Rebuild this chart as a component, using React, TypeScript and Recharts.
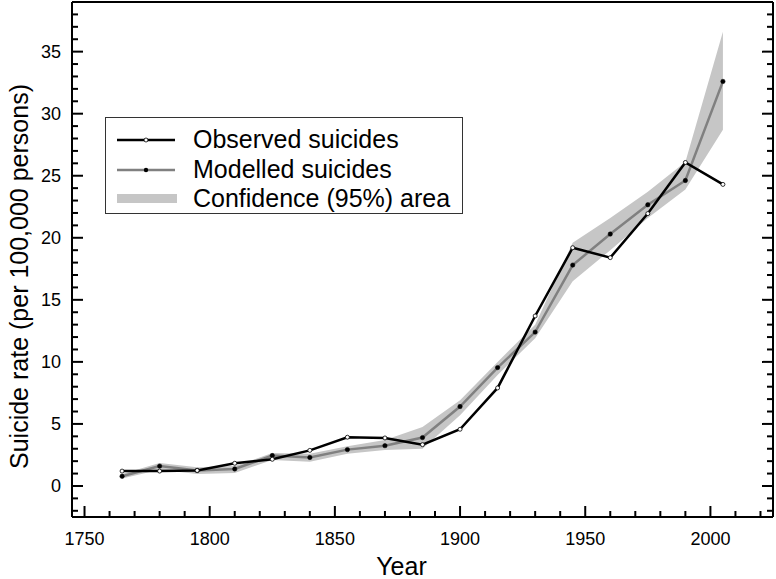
import { ComposedChart, Line, Area, XAxis, YAxis, Legend, Label } from "recharts";

const FONT = "'Liberation Sans', Arial, sans-serif";

// data, one point every 15 years
const years = [1765, 1780, 1795, 1810, 1825, 1840, 1855, 1870, 1885, 1900, 1915, 1930, 1945, 1960, 1975, 1990, 2005];
const observed = [1.2, 1.2, 1.25, 1.83, 2.15, 2.87, 3.93, 3.87, 3.33, 4.57, 7.9, 13.7, 19.2, 18.4, 21.95, 26.07, 24.3];
const modelled = [0.78, 1.6, 1.25, 1.37, 2.45, 2.3, 2.93, 3.25, 3.9, 6.4, 9.54, 12.4, 17.8, 20.3, 22.66, 24.62, 32.6];
const bandLow = [0.6, 1.3, 0.97, 1.05, 2.1, 1.95, 2.6, 2.9, 3.0, 5.7, 8.95, 11.9, 16.5, 19.0, 21.6, 23.9, 28.7];
const bandHigh = [0.97, 1.85, 1.5, 1.6, 2.65, 2.6, 3.2, 3.7, 4.75, 6.9, 10.0, 13.0, 19.6, 21.6, 23.7, 26.1, 36.6];

// ticks: minor every 10 years / 1 unit, labels on the majors
const xTicks = [1750, 1760, 1770, 1780, 1790, 1800, 1810, 1820, 1830, 1840, 1850, 1860, 1870, 1880, 1890, 1900, 1910, 1920, 1930, 1940, 1950, 1960, 1970, 1980, 1990, 2000, 2010, 2020];
const xLabels = [1750, 1800, 1850, 1900, 1950, 2000];
const yTicks = Array.from({ length: 41 }, (_, i) => i - 2);
const yLabels = [0, 5, 10, 15, 20, 25, 30, 35];

const data = years.map((year, i) => ({
  year,
  observed: observed[i],
  modelled: modelled[i],
  band: [bandLow[i], bandHigh[i]],
}));

const axisLine = { stroke: "#000", strokeWidth: 2 };

const BottomTick = (p: any) => {
  const major = xLabels.includes(p.payload.value);
  return (
    <g>
      <line x1={p.x} y1={p.y} x2={p.x} y2={p.y - (major ? 11 : 6)} stroke="#000" strokeWidth={2} />
      {major && (
        <text x={p.x} y={p.y + 28} textAnchor="middle" fontSize={18} fontFamily={FONT} fill="#000">
          {p.payload.value}
        </text>
      )}
    </g>
  );
};

const TopTick = (p: any) => {
  const major = xLabels.includes(p.payload.value);
  return <line x1={p.x} y1={p.y} x2={p.x} y2={p.y + (major ? 11 : 6)} stroke="#000" strokeWidth={2} />;
};

const LeftTick = (p: any) => {
  const major = yLabels.includes(p.payload.value);
  return (
    <g>
      <line x1={p.x} y1={p.y} x2={p.x + (major ? 11 : 6)} y2={p.y} stroke="#000" strokeWidth={2} />
      {major && (
        <text x={p.x - 11} y={p.y + 6.5} textAnchor="end" fontSize={18} fontFamily={FONT} fill="#000">
          {p.payload.value}
        </text>
      )}
    </g>
  );
};

const RightTick = (p: any) => {
  const major = yLabels.includes(p.payload.value);
  return <line x1={p.x} y1={p.y} x2={p.x - (major ? 11 : 6)} y2={p.y} stroke="#000" strokeWidth={2} />;
};

const LegendBox = () => {
  const row = { position: "absolute" as const, left: 87, lineHeight: "25px", whiteSpace: "nowrap" as const };
  return (
    <div
      style={{
        position: "relative",
        width: 358,
        height: 97,
        boxSizing: "border-box",
        border: "1px solid #333",
        background: "#fff",
        fontFamily: FONT,
        fontSize: 25,
        color: "#000",
      }}
    >
      <svg width={80} height={97} style={{ position: "absolute", left: 0, top: 0 }}>
        <line x1={11} y1={22} x2={69} y2={22} stroke="#000" strokeWidth={2.5} />
        <circle cx={40} cy={22} r={2} fill="#fff" stroke="#000" strokeWidth={0.8} />
        <line x1={11} y1={52} x2={69} y2={52} stroke="#808080" strokeWidth={2.5} />
        <circle cx={40} cy={52} r={2.2} fill="#000" />
        <rect x={11} y={76} width={60} height={9} fill="#c6c6c6" />
      </svg>
      <div style={{ ...row, top: 9 }}>Observed suicides</div>
      <div style={{ ...row, top: 39 }}>Modelled suicides</div>
      <div style={{ ...row, top: 68 }}>Confidence (95%) area</div>
    </div>
  );
};

export default function App() {
  return (
    <div style={{ position: "absolute", left: 0, top: 0, background: "#fff" }}>
      <ComposedChart width={776} height={579} data={data} margin={{ top: 1, right: 2, bottom: 61, left: 71 }}>
        <XAxis
          dataKey="year"
          type="number"
          domain={[1745, 2025]}
          allowDataOverflow
          ticks={xTicks}
          interval={0}
          height={1}
          tickSize={0}
          tickMargin={0}
          tickLine={false}
          axisLine={axisLine}
          tick={(p: any) => <BottomTick {...p} />}
        >
          <Label
            content={(p: any) => (
              <text
                x={p.viewBox.x + p.viewBox.width / 2 - 21}
                y={p.viewBox.y + 58}
                textAnchor="middle"
                fontSize={25}
                fontFamily={FONT}
                fill="#000"
              >
                Year
              </text>
            )}
          />
        </XAxis>
        <XAxis
          xAxisId="top"
          orientation="top"
          type="number"
          domain={[1745, 2025]}
          allowDataOverflow
          ticks={xTicks}
          interval={0}
          height={1}
          tickSize={0}
          tickMargin={0}
          tickLine={false}
          axisLine={axisLine}
          tick={(p: any) => <TopTick {...p} />}
        />
        <YAxis
          type="number"
          domain={[-2.5, 39]}
          allowDataOverflow
          ticks={yTicks}
          interval={0}
          width={1}
          tickSize={0}
          tickMargin={0}
          tickLine={false}
          axisLine={axisLine}
          tick={(p: any) => <LeftTick {...p} />}
        >
          <Label
            content={(p: any) => {
              const cx = 28;
              const cy = p.viewBox.y + p.viewBox.height / 2 + 17;
              return (
                <text
                  x={cx}
                  y={cy}
                  transform={`rotate(-90, ${cx}, ${cy})`}
                  textAnchor="middle"
                  fontSize={25}
                  fontFamily={FONT}
                  fill="#000"
                >
                  Suicide rate (per 100,000 persons)
                </text>
              );
            }}
          />
        </YAxis>
        <YAxis
          yAxisId="right"
          orientation="right"
          type="number"
          domain={[-2.5, 39]}
          allowDataOverflow
          ticks={yTicks}
          interval={0}
          width={1}
          tickSize={0}
          tickMargin={0}
          tickLine={false}
          axisLine={axisLine}
          tick={(p: any) => <RightTick {...p} />}
        />
        <Legend
          layout="vertical"
          align="center"
          verticalAlign="middle"
          wrapperStyle={{ left: 105, top: 117, width: 358, height: 97 }}
          content={() => <LegendBox />}
        />
        <Area
          type="linear"
          dataKey="band"
          name="Confidence (95%) area"
          stroke="none"
          fill="#c6c6c6"
          fillOpacity={1}
          isAnimationActive={false}
        />
        <Line
          type="linear"
          dataKey="modelled"
          name="Modelled suicides"
          stroke="#808080"
          strokeWidth={2.5}
          dot={{ r: 2.2, fill: "#000", stroke: "#000", strokeWidth: 0.5 }}
          isAnimationActive={false}
        />
        <Line
          type="linear"
          dataKey="observed"
          name="Observed suicides"
          stroke="#000"
          strokeWidth={2.5}
          dot={{ r: 2, fill: "#fff", stroke: "#000", strokeWidth: 0.8 }}
          isAnimationActive={false}
        />
      </ComposedChart>
    </div>
  );
}
